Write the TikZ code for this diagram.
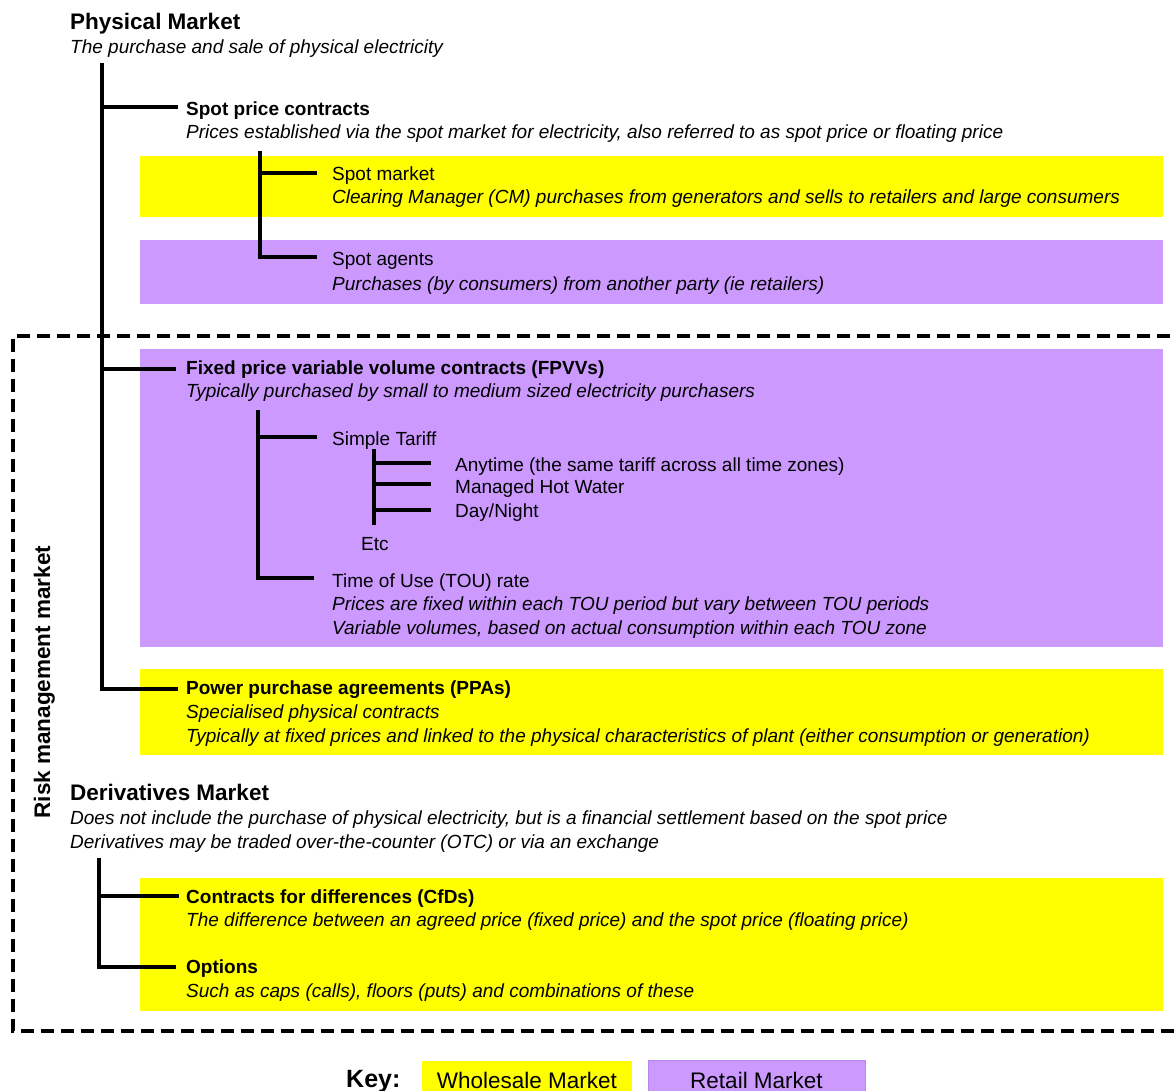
\documentclass[tikz,border=0pt]{standalone}
\usepackage{fontspec}
\setmainfont{Liberation Sans}
\definecolor{wholesale}{HTML}{FFFF00}
\definecolor{retail}{HTML}{CC99FF}
\definecolor{retailedge}{HTML}{B388F0}
\tikzset{
  tree/.style={line width=4.5pt},
  riskline/.style={line width=3.2pt, dash pattern=on 13pt off 7pt},
  ttl/.style={anchor=base west, inner sep=0pt, font=\fontsize{22.5}{27}\selectfont\bfseries},
  hd/.style={anchor=base west, inner sep=0pt, font=\fontsize{19}{23}\selectfont\bfseries},
  tx/.style={anchor=base west, inner sep=0pt, font=\fontsize{19}{23}\selectfont},
  ds/.style={anchor=base west, inner sep=0pt, font=\fontsize{19}{23}\selectfont\itshape},
  keybox/.style={minimum height=39pt, inner sep=0pt, font=\fontsize{22.5}{27}\selectfont}
}
\begin{document}
\begin{tikzpicture}[x=1pt,y=-1pt]
  \useasboundingbox (0,0) rectangle (1176,1091);
  % coloured bands
  \fill[wholesale] (140,156) rectangle (1163,217);
  \fill[retail] (140,240) rectangle (1163,304);
  \fill[retail] (140,349) rectangle (1163,647);
  \fill[wholesale] (140,669) rectangle (1163,755);
  \fill[wholesale] (140,878) rectangle (1163,1011);
  % risk management frame
  \draw[riskline] (1190,336) -| (13,1031) -- (1190,1031);
  \node[ttl, anchor=base, rotate=90] (risk) at (50,682) {Risk management market};

  % physical market
  \node[ttl] (phys) at (70,30) {Physical Market};
  \node[ds] (physd) at (70,54) {The purchase and sale of physical electricity};
  \node[hd] (spot) at (186,116) {Spot price contracts};
  \node[ds] (spotd) at (186,139) {Prices established via the spot market for electricity, also referred to as spot price or floating price};
  \node[tx] (smkt) at (332,181) {Spot market};
  \node[ds] (smktd) at (332,204) {Clearing Manager (CM) purchases from generators and sells to retailers and large consumers};
  \node[tx] (sagt) at (332,266) {Spot agents};
  \node[ds] (sagtd) at (332,291) {Purchases (by consumers) from another party (ie retailers)};
  \node[hd] (fpvv) at (186,375) {Fixed price variable volume contracts (FPVVs)};
  \node[ds] (fpvvd) at (186,398) {Typically purchased by small to medium sized electricity purchasers};
  \node[tx] (simple) at (332,446) {Simple Tariff};
  \node[tx] (any) at (455,471) {Anytime (the same tariff across all time zones)};
  \node[tx] (hot) at (455,493) {Managed Hot Water};
  \node[tx] (dn) at (455,517) {Day/Night};
  \node[tx] (etc) at (361,550) {Etc};
  \node[tx] (tou) at (332,587) {Time of Use (TOU) rate};
  \node[ds] (toud) at (332,610) {Prices are fixed within each TOU period but vary between TOU periods};
  \node[ds] (toue) at (332,634) {Variable volumes, based on actual consumption within each TOU zone};
  \node[hd] (ppa) at (186,694) {Power purchase agreements (PPAs)};
  \node[ds] (ppad) at (186,718) {Specialised physical contracts};
  \node[ds] (ppae) at (186,742) {Typically at fixed prices and linked to the physical characteristics of plant (either consumption or generation)};

  % derivatives market
  \node[ttl] (deriv) at (70,800) {Derivatives Market};
  \node[ds] (derivd) at (70,824) {Does not include the purchase of physical electricity, but is a financial settlement based on the spot price};
  \node[ds] (derive) at (70,848) {Derivatives may be traded over-the-counter (OTC) or via an exchange};
  \node[hd] (cfd) at (186,903) {Contracts for differences (CfDs)};
  \node[ds] (cfdd) at (186,926) {The difference between an agreed price (fixed price) and the spot price (floating price)};
  \node[hd] (opt) at (186,973) {Options};
  \node[ds] (optd) at (186,997) {Such as caps (calls), floors (puts) and combinations of these};

  % tree lines
  \coordinate (pmroot) at (102,63);
  \draw[tree] (pmroot) |- ([xshift=-8pt,yshift=9pt]spot.base west);
  \draw[tree] (pmroot) |- ([xshift=-10pt,yshift=6pt]fpvv.base west);
  \draw[tree] (pmroot) |- ([xshift=-8pt,yshift=5pt]ppa.base west);
  \coordinate (sproot) at (260,151);
  \draw[tree] (sproot) |- ([xshift=-15pt,yshift=8pt]smkt.base west);
  \draw[tree] (sproot) |- ([xshift=-15pt,yshift=9pt]sagt.base west);
  \coordinate (fproot) at (258,410);
  \draw[tree] (fproot) |- ([xshift=-15pt,yshift=9pt]simple.base west);
  \draw[tree] (fproot) |- ([xshift=-18pt,yshift=9pt]tou.base west);
  \coordinate (stroot) at (374,449);
  \coordinate (stend) at (374,525);
  \draw[tree] (stroot) -- (stend);
  \draw[tree] ([xshift=-24pt,yshift=8pt]any.base west) -- ++(-57,0);
  \draw[tree] ([xshift=-24pt,yshift=9pt]hot.base west) -- ++(-57,0);
  \draw[tree] ([xshift=-24pt,yshift=7pt]dn.base west) -- ++(-57,0);
  \coordinate (dmroot) at (99,858);
  \draw[tree] (dmroot) |- ([xshift=-7pt,yshift=7pt]cfd.base west);
  \draw[tree] (dmroot) |- ([xshift=-10pt,yshift=6pt]opt.base west);

  % key
  \node[ttl, font=\fontsize{25}{30}\selectfont\bfseries] (key) at (346,1087) {Key:};
  \node[keybox, fill=wholesale, minimum width=210pt] (wkey) at (527,1080) {Wholesale Market};
  \node[keybox, fill=retail, draw=retailedge, minimum width=217pt] (rkey) at (756.5,1080) {Retail Market};
\end{tikzpicture}
\end{document}
